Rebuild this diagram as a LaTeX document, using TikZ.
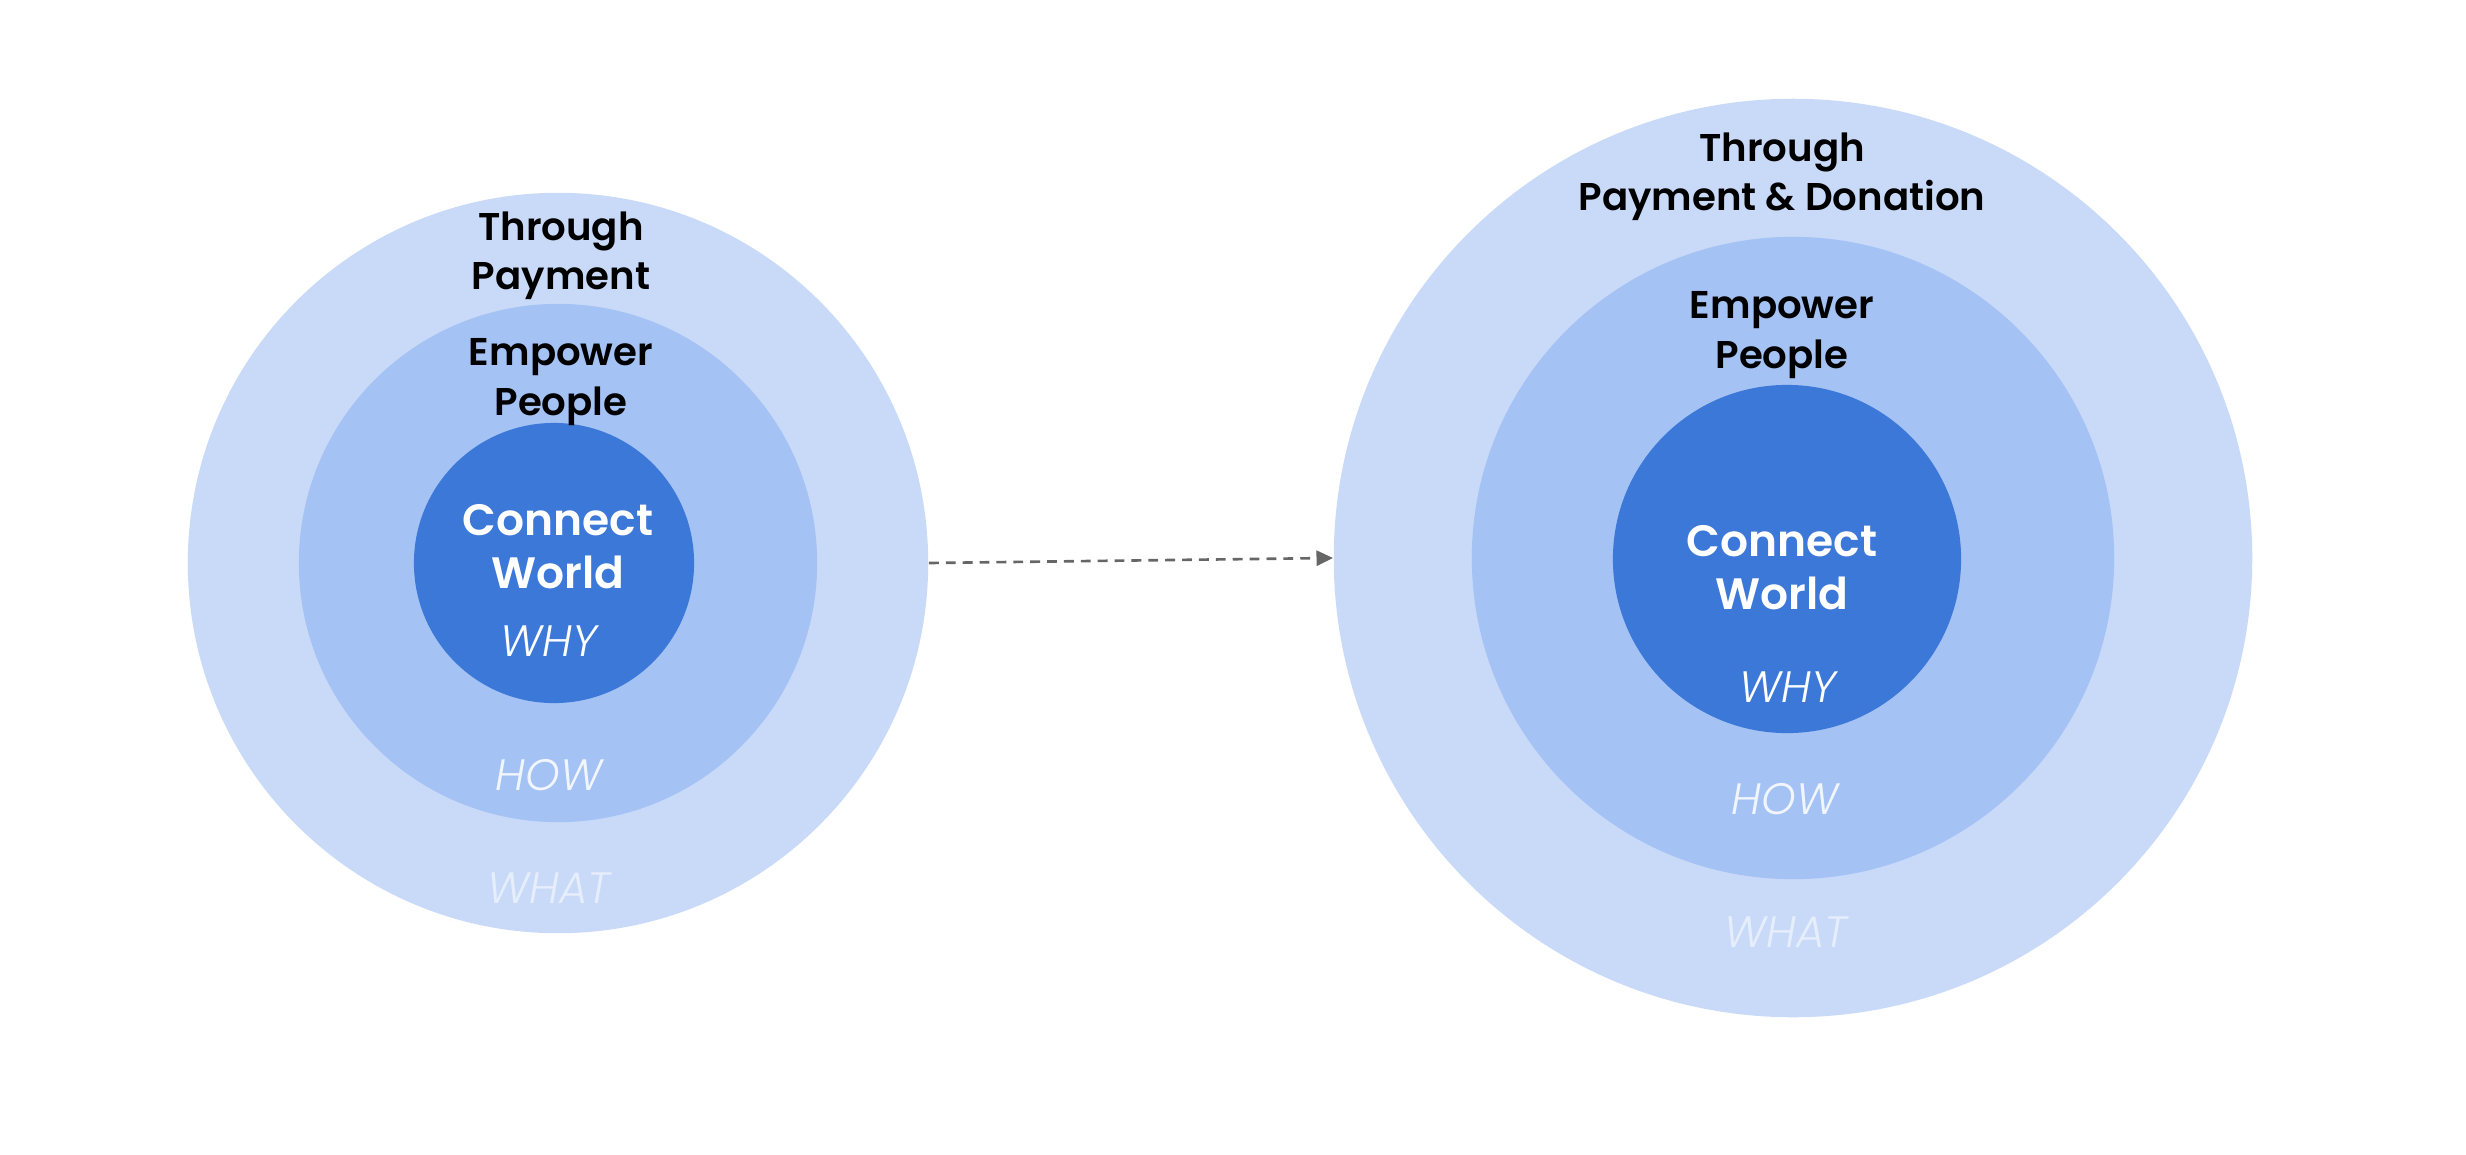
\documentclass[tikz,border=0pt]{standalone}
\usepackage{fontspec}
\setmainfont{Poppins}
\newfontfamily\labelfont{Poppins SemiBold}
\newfontfamily\tagfont{Poppins Light Italic}
\usepackage{tikz}
\usetikzlibrary{arrows.meta}
\definecolor{whatblue}{HTML}{C9DAF8}
\definecolor{howblue}{HTML}{A4C2F4}
\definecolor{whyblue}{HTML}{3C78D8}
\definecolor{arrowgrey}{HTML}{666666}

\tikzset{
	ring/.style = {circle, inner sep=0pt, draw=none},
	goal/.style = {align=center, text=black, font=\labelfont\fontsize{11}{14}\selectfont},
	core/.style = {align=center, text=white, font=\labelfont\fontsize{12.5}{15}\selectfont},
	tag/.style = {text=white, font=\tagfont\fontsize{12.5}{15}\selectfont},
	flow/.style = {arrowgrey, line width=0.75pt, dash pattern=on 2.8pt off 2pt, -{Triangle[length=4.7pt,width=4.3pt]}}
}

\begin{document}
\begin{tikzpicture}[x=0.01cm, y=-0.01cm]
		\useasboundingbox (0,0) rectangle (2466,1154);

		% Left circles
		\node [ring, fill=whatblue, minimum size=7.40cm] (whatL) at (558,563) {};
		\node [ring, fill=howblue, minimum size=5.18cm] (howL) at (558,563) {};
		\node [ring, fill=whyblue, minimum size=2.80cm] (whyL) at (554,563) {};

		\node [goal] (payL) at (561,256) {Through\\Payment};
		\node [goal] (empL) at (561,382) {Empower\\People};
		\node [core] (conL) at (558,547) {Connect\\World};
		\node [tag] (whyTxtL) at (549,641) {WHY};
		\node [tag, opacity=0.85] (howTxtL) at (549,775) {HOW};
		\node [tag, opacity=0.55] (whatTxtL) at (549,888) {WHAT};

		% Right circles
		\node [ring, fill=whatblue, minimum size=9.18cm] (whatR) at (1793,558) {};
		\node [ring, fill=howblue, minimum size=6.42cm] (howR) at (1793,558) {};
		\node [ring, fill=whyblue, minimum size=3.48cm] (whyR) at (1787,559) {};

		\node [goal] (payR) at (1782,177) {Through\\Payment \& Donation};
		\node [goal] (empR) at (1782,335) {Empower\\People};
		\node [core] (conR) at (1782,568) {Connect\\World};
		\node [tag] (whyTxtR) at (1788,687) {WHY};
		\node [tag, opacity=0.85] (howTxtR) at (1785,799) {HOW};
		\node [tag, opacity=0.55] (whatTxtR) at (1786,932) {WHAT};

		\draw [flow] (whatL.east) -- (whatR.west);
	\end{tikzpicture}
\end{document}
